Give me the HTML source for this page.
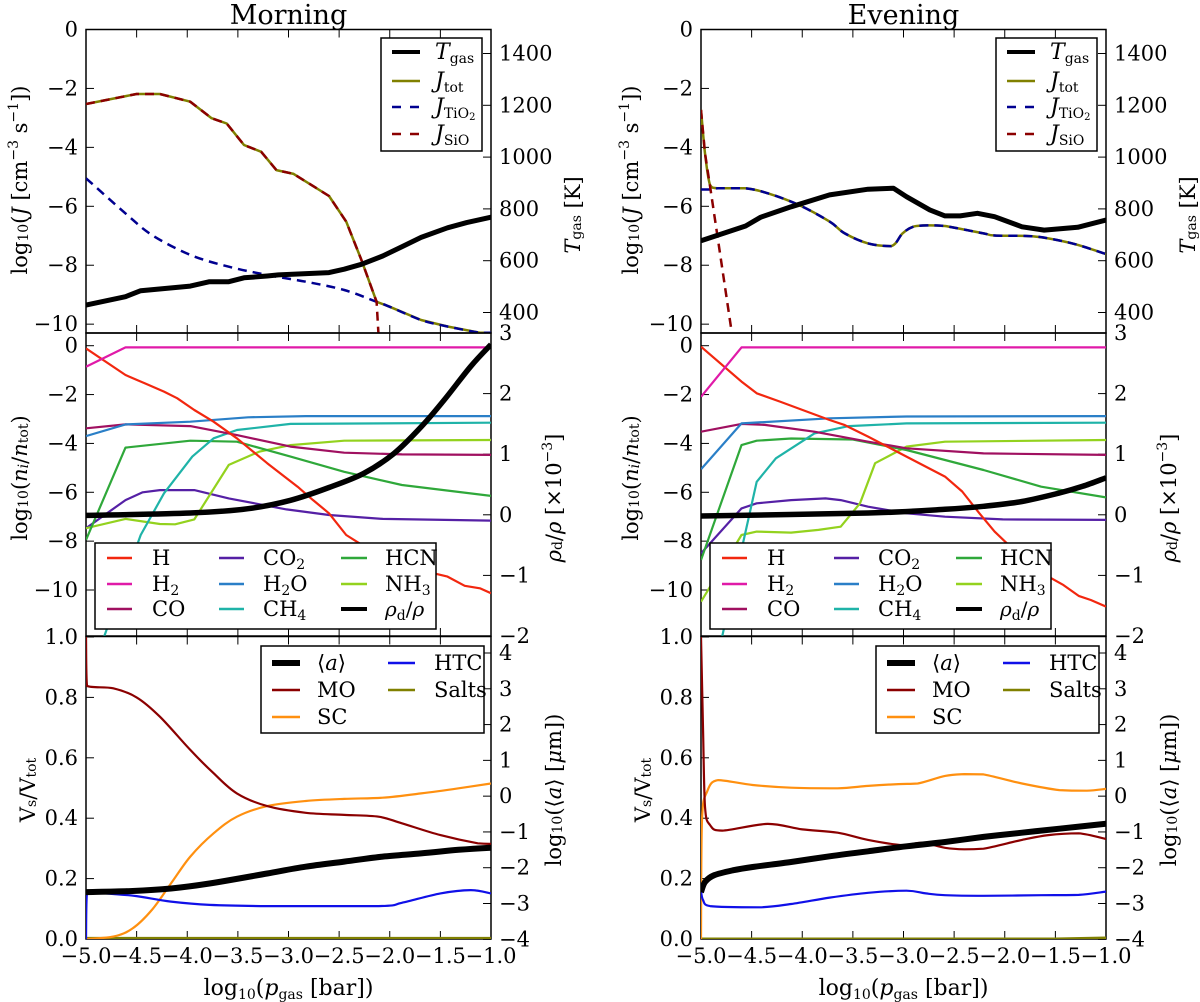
<!DOCTYPE html>
<html><head><meta charset="utf-8">
<style>
html,body{margin:0;padding:0;background:#fff;}
svg{display:block;font-family:"DejaVu Serif","Liberation Serif",serif;}
</style></head>
<body>
<svg id="fig" width="1200" height="1002" viewBox="0 0 1200 1002" xmlns="http://www.w3.org/2000/svg"></svg>
<script>
// ===== DATA (x = log10 p_gas) =====
// Morning top
const mTgasX=[-5,-4.61,-4.46,-3.97,-3.78,-3.59,-3.44,-3.21,-3.10,-2.60,-2.45,-2.28,-2.07,-1.88,-1.69,-1.43,-1.24,-1];
const mTgasY=[429,461,484,502,519,519,534,541,545,554,567,586,618,654,690,727,747,768];
const mJtotX=[-5,-4.50,-4.27,-3.97,-3.76,-3.61,-3.44,-3.27,-3.12,-2.95,-2.60,-2.43,-2.28,-2.13,-2.00,-1.69,-1.43,-1.11,-1];
const mJtotY=[-2.53,-2.19,-2.19,-2.45,-3.01,-3.19,-3.92,-4.15,-4.77,-4.90,-5.65,-6.52,-7.82,-9.24,-9.41,-9.86,-10.08,-10.29,-10.29];
const mJtioX=[-5,-4.61,-4.35,-3.97,-3.59,-3.21,-2.83,-2.45,-2.13,-2.00,-1.69,-1.43,-1.11,-1];
const mJtioY=[-5.05,-6.24,-6.97,-7.65,-8.05,-8.33,-8.56,-8.84,-9.24,-9.41,-9.86,-10.08,-10.29,-10.29];
const mJsioX=[-5,-4.50,-4.27,-3.97,-3.76,-3.61,-3.44,-3.27,-3.12,-2.95,-2.60,-2.43,-2.28,-2.13,-2.10];
const mJsioY=[-2.53,-2.19,-2.19,-2.45,-3.01,-3.19,-3.92,-4.15,-4.77,-4.90,-5.65,-6.52,-7.82,-9.24,-11];
// Evening top
const eTgasX=[-5,-4.56,-4.41,-4.11,-3.73,-3.35,-3.10,-2.97,-2.74,-2.59,-2.44,-2.27,-2.10,-1.83,-1.61,-1.28,-1];
const eTgasY=[677,734,768,808,854,876,880,847,796,773,773,783,770,731,718,729,757];
const eJtotX=[-5,-4.96,-4.91,-4.83,-4.56,-4.34,-4.03,-3.73,-3.58,-3.35,-3.12,-3.01,-2.90,-2.74,-2.59,-2.21,-2.10,-1.76,-1.57,-1.30,-1];
const eJtotY=[-2.73,-4.20,-5.28,-5.39,-5.39,-5.56,-5.96,-6.52,-6.92,-7.26,-7.35,-6.92,-6.69,-6.65,-6.67,-6.92,-6.99,-7.01,-7.09,-7.29,-7.62];
const eJtioX=[-5,-4.91,-4.83,-4.56,-4.34,-4.03,-3.73,-3.58,-3.35,-3.12,-3.01,-2.90,-2.74,-2.59,-2.21,-2.10,-1.76,-1.57,-1.30,-1];
const eJtioY=[-5.43,-5.43,-5.39,-5.39,-5.56,-5.96,-6.52,-6.92,-7.26,-7.35,-6.92,-6.69,-6.65,-6.67,-6.92,-6.99,-7.01,-7.09,-7.29,-7.62];
const eJsioX=[-5,-4.96,-4.91,-4.70,-4.66];
const eJsioY=[-2.73,-4.20,-5.33,-10.2,-11];
// Morning middle
const mHX=[-5,-4.61,-4.42,-4.23,-4.10,-3.93,-3.74,-3.51,-3.21,-2.91,-2.76,-2.60,-2.43,-2.30,-2.0,-1.7,-1.56,-1.43,-1.26,-1.11,-1];
const mHY=[-0.11,-1.20,-1.54,-1.88,-2.15,-2.63,-3.11,-3.79,-4.81,-5.77,-6.31,-6.86,-7.75,-8.09,-8.6,-9.1,-9.32,-9.45,-9.83,-9.93,-10.13];
const mH2X=[-5,-4.61,-1];
const mH2Y=[-0.86,-0.07,-0.07];
const mCOX=[-5,-4.61,-3.97,-3.51,-2.98,-2.45,-1.88,-1];
const mCOY=[-3.38,-3.22,-3.29,-3.66,-4.13,-4.38,-4.45,-4.47];
const mH2OX=[-5,-4.61,-3.97,-3.40,-2.83,-1];
const mH2OY=[-3.70,-3.22,-3.11,-2.93,-2.88,-2.88];
const mCH4X=[-5,-4.82,-4.46,-4.23,-3.95,-3.74,-3.51,-2.98,-1];
const mCH4Y=[-14,-11.9,-7.75,-6.04,-4.54,-3.79,-3.45,-3.20,-3.15];
const mHCNX=[-5,-4.61,-3.97,-3.51,-2.98,-2.45,-1.88,-1];
const mHCNY=[-7.95,-4.17,-3.89,-3.93,-4.54,-5.16,-5.70,-6.15];
const mNH3X=[-5,-4.61,-4.27,-4.12,-3.93,-3.59,-3.29,-2.98,-2.45,-1];
const mNH3Y=[-7.47,-7.09,-7.30,-7.31,-7.11,-4.88,-4.34,-4.07,-3.89,-3.86];
const mCO2X=[-5,-4.61,-4.44,-4.27,-3.93,-3.59,-3.02,-2.60,-2.07,-1];
const mCO2Y=[-7.47,-6.32,-6.00,-5.91,-5.91,-6.25,-6.70,-6.93,-7.09,-7.16];
const mRhoX=[-5,-3.97,-3.40,-2.98,-2.60,-2.26,-1.96,-1.69,-1.46,-1.20,-1];
const mRhoY=[-0.01,0.03,0.10,0.24,0.45,0.68,1.01,1.45,1.90,2.45,2.81];
// Evening middle
const eHX=[-5,-4.60,-4.45,-4.22,-3.73,-3.58,-3.35,-2.97,-2.59,-2.42,-2.25,-2.10,-1.85,-1.57,-1.42,-1.27,-1.15,-1];
const eHY=[-0.04,-1.47,-1.95,-2.29,-3.04,-3.25,-3.72,-4.54,-5.36,-5.97,-6.86,-7.61,-8.6,-9.45,-9.80,-10.24,-10.41,-10.68];
const eH2X=[-5,-4.60,-1];
const eH2Y=[-2.09,-0.07,-0.07];
const eCOX=[-5,-4.60,-4.37,-3.88,-3.35,-2.97,-2.21,-1];
const eCOY=[-3.52,-3.20,-3.24,-3.52,-3.93,-4.20,-4.41,-4.47];
const eH2OX=[-5,-4.60,-3.73,-2.97,-1];
const eH2OY=[-5.06,-3.18,-2.97,-2.90,-2.88];
const eCH4X=[-5,-4.79,-4.45,-4.26,-3.88,-3.54,-2.97,-1];
const eCH4Y=[-15,-11.88,-5.57,-4.61,-3.59,-3.29,-3.18,-3.15];
const eHCNX=[-5,-4.60,-4.45,-4.11,-3.50,-2.97,-2.21,-1.64,-1];
const eHCNY=[-8.77,-4.07,-3.89,-3.80,-3.84,-4.27,-5.09,-5.77,-6.21];
const eNH3X=[-5,-4.60,-4.45,-4.11,-3.84,-3.62,-3.43,-3.28,-2.97,-2.59,-1];
const eNH3Y=[-10.48,-7.75,-7.61,-7.65,-7.54,-7.41,-6.45,-4.81,-4.13,-3.93,-3.86];
const eCO2X=[-5,-4.60,-4.45,-4.11,-3.77,-3.62,-3.35,-2.97,-2.59,-2.02,-1];
const eCO2Y=[-8.5,-6.66,-6.45,-6.32,-6.25,-6.32,-6.59,-6.86,-7.0,-7.11,-7.13];
const eRhoX=[-5,-3.35,-2.59,-2.21,-1.83,-1.46,-1.23,-1];
const eRhoY=[-0.02,0.03,0.09,0.14,0.22,0.36,0.47,0.61];
// Morning bottom
const mMOX=[-5,-4.99,-4.73,-4.50,-4.27,-3.97,-3.74,-3.51,-3.21,-2.83,-2.45,-2.11,-1.88,-1.50,-1.13,-1];
const mMOY=[1.0,0.838,0.83,0.80,0.736,0.626,0.549,0.482,0.440,0.418,0.411,0.405,0.383,0.344,0.317,0.315];
const mSCX=[-5,-4.73,-4.54,-4.35,-4.16,-3.97,-3.74,-3.51,-3.21,-2.83,-2.45,-2.07,-1.69,-1.32,-1];
const mSCY=[0.0,0.008,0.035,0.096,0.184,0.273,0.35,0.405,0.44,0.457,0.464,0.468,0.482,0.499,0.515];
const mHTCX=[-5,-4.99,-4.73,-4.50,-4.16,-3.78,-3.21,-2.11,-1.88,-1.50,-1.20,-1];
const mHTCY=[0.0,0.153,0.149,0.142,0.124,0.113,0.109,0.109,0.12,0.151,0.162,0.151];
const mSaltX=[-5,-1];
const mSaltY=[0.003,0.003];
const mAX=[-5,-4.54,-4.16,-3.78,-3.21,-2.83,-2.45,-2.07,-1.69,-1.32,-1];
const mAY=[-2.68,-2.65,-2.58,-2.44,-2.16,-1.97,-1.83,-1.69,-1.60,-1.50,-1.44];
// Evening bottom
const eMOX=[-5,-4.98,-4.96,-4.91,-4.79,-4.34,-4.00,-3.65,-3.35,-3.01,-2.82,-2.59,-2.40,-2.21,-1.83,-1.57,-1.27,-1];
const eMOY=[1.0,0.70,0.438,0.377,0.359,0.381,0.363,0.352,0.328,0.311,0.319,0.302,0.297,0.299,0.328,0.344,0.35,0.331];
const eSCX=[-5,-4.99,-4.94,-4.83,-4.49,-4.11,-3.65,-3.35,-3.05,-2.86,-2.59,-2.40,-2.21,-1.83,-1.46,-1.19,-1];
const eSCY=[0.0,0.394,0.488,0.526,0.51,0.501,0.499,0.507,0.513,0.515,0.54,0.546,0.545,0.515,0.493,0.491,0.497];
const eHTCX=[-5,-4.98,-4.91,-4.42,-4.11,-3.73,-3.35,-2.97,-2.78,-2.59,-2.21,-1.64,-1.27,-1];
const eHTCY=[0.16,0.129,0.109,0.105,0.116,0.137,0.153,0.16,0.151,0.145,0.143,0.145,0.146,0.157];
const eSaltX=[-5,-1.5,-1];
const eSaltY=[0.001,0.001,0.004];
const eAX=[-5,-4.96,-4.87,-4.68,-4.49,-4.11,-3.73,-3.35,-2.97,-2.59,-2.21,-1.83,-1.46,-1];
const eAY=[-2.68,-2.40,-2.21,-2.07,-1.98,-1.84,-1.68,-1.54,-1.40,-1.28,-1.14,-1.02,-0.91,-0.77];
// tick labels
const xTicks=[-5.0,-4.5,-4.0,-3.5,-3.0,-2.5,-2.0,-1.5,-1.0];
const jTicks=[0,-2,-4,-6,-8,-10];
const tTicks=[400,600,800,1000,1200,1400];
const nTicks=[0,-2,-4,-6,-8,-10];
const rhoTicks=[-2,-1,0,1,2,3];
const vTicks=[0.0,0.2,0.4,0.6,0.8,1.0];
const aTicks=[-4,-3,-2,-1,0,1,2,3,4];

// ===== DRAWING =====
const NS="http://www.w3.org/2000/svg";
const svg=document.getElementById('fig');
function mk(tag,attrs,parent){const e=document.createElementNS(NS,tag);for(const k in attrs)e.setAttribute(k,attrs[k]);(parent||svg).appendChild(e);return e;}
const cols=[{x0:86,x1:491,off:0,key:'morning'},{x0:701,x1:1106,off:615,key:'evening'}];
const rows={top:{y0:29.5,y1:333},mid:{y0:333,y1:636},bot:{y0:636.5,y1:939}};
function lin(d0,d1,r0,r1){return v=>r0+(v-d0)/(d1-d0)*(r1-r0);}
function fmtMinus(s){return String(s).replace('-','\u2212');}
const colors={H:'#f2270f',H2:'#e01aa8',CO:'#a01060',CO2:'#5520a5',H2O:'#2a7fc7',CH4:'#1fb3a8',HCN:'#2fa83a',NH3:'#93d21e',MO:'#8b0000',SC:'#ff9010',HTC:'#1010e8',Salt:'#808000',Jtot:'#808000',Jtio:'#000090',Jsio:'#8b0000'};

let clipId=0;
function clipFor(c,r){clipId++;const cp=mk('clipPath',{id:'cp'+clipId});mk('rect',{x:c.x0,y:r.y0,width:c.x1-c.x0,height:r.y1-r.y0},cp);return 'url(#cp'+clipId+')';}
function clampv(v,a,b){const lo=Math.min(a,b),hi=Math.max(a,b);return Math.max(lo,Math.min(hi,v));}
function series(xs,ys,sx,sy,style,clip,name,smooth){
  const P=xs.map((x,i)=>[sx(x),sy(ys[i])]);
  let d='M'+P[0][0].toFixed(1)+' '+P[0][1].toFixed(1);
  for(let i=1;i<P.length;i++){
    if(!smooth){d+='L'+P[i][0].toFixed(1)+' '+P[i][1].toFixed(1);continue;}
    const p0=P[Math.max(0,i-2)],p1=P[i-1],p2=P[i],p3=P[Math.min(P.length-1,i+1)];
    let c1x=p1[0]+(p2[0]-p0[0])/6,c1y=p1[1]+(p2[1]-p0[1])/6;
    let c2x=p2[0]-(p3[0]-p1[0])/6,c2y=p2[1]-(p3[1]-p1[1])/6;
    c1x=clampv(c1x,p1[0],p2[0]);c2x=clampv(c2x,p1[0],p2[0]);
    c1y=clampv(c1y,p1[1],p2[1]);c2y=clampv(c2y,p1[1],p2[1]);
    d+='C'+c1x.toFixed(1)+' '+c1y.toFixed(1)+' '+c2x.toFixed(1)+' '+c2y.toFixed(1)+' '+p2[0].toFixed(1)+' '+p2[1].toFixed(1);
  }
  const p=mk('path',Object.assign({d:d,fill:'none','stroke-linejoin':'round','clip-path':clip},style));
  
  
  return p;
}
function txt(x,y,s,attrs,name){const t=mk('text',Object.assign({x:x,y:y,'font-size':20,fill:'#000'},attrs||{}));t.textContent=s;
  
  
  return t;}
function frame(c,r,name){
  const f=mk('rect',{x:c.x0,y:r.y0,width:c.x1-c.x0,height:r.y1-r.y0,fill:'none',stroke:'#000','stroke-width':1.5});
  
  
}
function xticks(c,r,sx,labels){
  xTicks.forEach(v=>{const X=sx(v);
    mk('line',{x1:X,y1:r.y1,x2:X,y2:r.y1-8,stroke:'#000','stroke-width':1});
    mk('line',{x1:X,y1:r.y0,x2:X,y2:r.y0+8,stroke:'#000','stroke-width':1});
    if(labels){txt(X,963,fmtMinus(v.toFixed(1)),{'text-anchor':'middle','font-size':21},'x-tick-label');}
  });
}
function yticks(c,vals,sy,side,fmt){
  vals.forEach(v=>{const Y=sy(v);
    if(side==='l'){mk('line',{x1:c.x0,y1:Y,x2:c.x0+8,y2:Y,stroke:'#000','stroke-width':1});
      txt(c.x0-8,Y+7,fmtMinus(fmt(v)),{'text-anchor':'end','font-size':21},'y-tick-label');}
    else{mk('line',{x1:c.x1,y1:Y,x2:c.x1-8,y2:Y,stroke:'#000','stroke-width':1});
      txt(c.x1+8,Y+7,fmtMinus(fmt(v)),{'text-anchor':'start','font-size':21},'y2-tick-label');}
  });
}
function rotLabel(x,y,html,name){
  const g=mk('g',{transform:'translate('+x+','+y+') rotate(-90)'});
  
  
  const t=mk('text',{x:0,y:0,'text-anchor':'middle','font-size':21,'dominant-baseline':'central'},g);
  t.innerHTML=html;return g;
}
const sub=(s)=>'<tspan baseline-shift="-25%" font-size="14">'+s+'</tspan>';
const sup=(s)=>'<tspan baseline-shift="40%" font-size="14">'+s+'</tspan>';

function legendBox(x,y,w,h,name){const r=mk('rect',{x:x,y:y,width:w,height:h,fill:'#fff',stroke:'#000','stroke-width':1.5});
  
  }
function legEntry(x1,x2,y,style,tx,html,fs,name){
  const g=mk('g',{});
  
  
  mk('line',Object.assign({x1:x1,y1:y,x2:x2,y2:y},style),g);
  const t=mk('text',{x:tx,y:y+7,'font-size':fs||21},g);t.innerHTML=html;
}

cols.forEach((c,ci)=>{
  const M=ci===0;
  const sx=lin(-5,-1,c.x0,c.x1);
  txt((c.x0+c.x1)/2,24,M?'Morning':'Evening',{'text-anchor':'middle','font-size':27},'panel-title-'+c.key);
  // --- TOP ---
  const rt=rows.top;
  const sJ=lin(0,-10.3,rt.y0,rt.y1);
  const sT=v=>53.5-(v-1400)*0.259;
  const ct=clipFor(c,rt);
  frame(c,rt,'nucleation-panel-frame-'+c.key);
  xticks(c,rt,sx,false);
  yticks(c,jTicks,sJ,'l',v=>String(v));
  yticks(c,tTicks,sT,'r',v=>String(v));
  series(M?mJtotX:eJtotX,M?mJtotY:eJtotY,sx,sJ,{stroke:colors.Jtot,'stroke-width':2.5},ct,'jtot-line',!M);
  series(M?mJtioX:eJtioX,M?mJtioY:eJtioY,sx,sJ,{stroke:colors.Jtio,'stroke-width':2.5,'stroke-dasharray':'9 6'},ct,'jtio2-line',true);
  series(M?mJsioX:eJsioX,M?mJsioY:eJsioY,sx,sJ,{stroke:colors.Jsio,'stroke-width':2.5,'stroke-dasharray':'9 6'},ct,'jsio-line',false);
  series(M?mTgasX:eTgasX,M?mTgasY:eTgasY,sx,sT,{stroke:'#000','stroke-width':5},ct,'tgas-line',false);
  rotLabel(M?20:631,180,'log'+sub('10')+'(<tspan font-style="italic">J</tspan> [cm'+sup('\u22123')+' s'+sup('\u22121')+'])','y-axis-title-J');
  rotLabel(c.x1+82,215,'<tspan font-style="italic">T</tspan>'+sub('gas')+' [K]','y2-axis-title-tgas');
  const lx=381+c.off;
  legendBox(lx,38,101,113,'legend-top-'+c.key);
  legEntry(lx+11,lx+39,52,{stroke:'#000','stroke-width':4},lx+54,'<tspan font-style="italic">T</tspan>'+sub('gas'),22,'legend-entry-tgas');
  legEntry(lx+11,lx+39,81,{stroke:colors.Jtot,'stroke-width':2.5},lx+54,'<tspan font-style="italic">J</tspan>'+sub('tot'),22,'legend-entry-jtot');
  legEntry(lx+11,lx+39,107,{stroke:colors.Jtio,'stroke-width':2.5,'stroke-dasharray':'9 9'},lx+54,'<tspan font-style="italic">J</tspan>'+sub('TiO<tspan font-size="10" baseline-shift="-20%">2</tspan>'),22,'legend-entry-jtio2');
  legEntry(lx+11,lx+39,134,{stroke:colors.Jsio,'stroke-width':2.5,'stroke-dasharray':'9 9'},lx+54,'<tspan font-style="italic">J</tspan>'+sub('SiO'),22,'legend-entry-jsio');

  // --- MIDDLE ---
  const rm=rows.mid;
  const sN=lin(0,-10,345.7,590);
  const sR=lin(3,-2,333,636);
  const cm=clipFor(c,rm);
  frame(c,rm,'abundance-panel-frame-'+c.key);
  xticks(c,rm,sx,false);
  yticks(c,nTicks,sN,'l',v=>String(v));
  yticks(c,rhoTicks,sR,'r',v=>String(v));
  const sp=M?[['CO2',mCO2X,mCO2Y],['NH3',mNH3X,mNH3Y],['HCN',mHCNX,mHCNY],['CH4',mCH4X,mCH4Y],['CO',mCOX,mCOY],['H2O',mH2OX,mH2OY],['H',mHX,mHY],['H2',mH2X,mH2Y]]
            :[['CO2',eCO2X,eCO2Y],['NH3',eNH3X,eNH3Y],['HCN',eHCNX,eHCNY],['CH4',eCH4X,eCH4Y],['CO',eCOX,eCOY],['H2O',eH2OX,eH2OY],['H',eHX,eHY],['H2',eH2X,eH2Y]];
  sp.forEach(s=>series(s[1],s[2],sx,sN,{stroke:colors[s[0]],'stroke-width':2.2},cm,'line-'+s[0].toLowerCase(),false));
  series(M?mRhoX:eRhoX,M?mRhoY:eRhoY,sx,sR,{stroke:'#000','stroke-width':5.5},cm,'rho-ratio-line',true);
  rotLabel(M?20:631,478,'log'+sub('10')+'(<tspan font-style="italic">n<tspan font-size="14" baseline-shift="-25%">i</tspan></tspan>/<tspan font-style="italic">n</tspan>'+sub('tot')+')','y-axis-title-n');
  rotLabel(c.x1+63,498,'<tspan font-style="italic">\u03c1</tspan>'+sub('d')+'/<tspan font-style="italic">\u03c1</tspan> [\u00d710'+sup('\u22123')+']','y2-axis-title-rho');
  const mx=95+c.off;
  legendBox(mx,543,341,86,'legend-mid-'+c.key);
  const cxs=[[12,37,57],[124,149,168],[246,272,290]];
  const mEnt=[[0,0,'H','H','h'],[0,1,'H2','H'+sub('2'),'h2'],[0,2,'CO','CO','co'],[1,0,'CO2','CO'+sub('2'),'co2'],[1,1,'H2O','H'+sub('2')+'O','h2o'],[1,2,'CH4','CH'+sub('4'),'ch4'],[2,0,'HCN','HCN','hcn'],[2,1,'NH3','NH'+sub('3'),'nh3']];
  const rys=[558,584,609];
  mEnt.forEach(e=>{const cc=cxs[e[0]];legEntry(mx+cc[0],mx+cc[1],rys[e[1]],{stroke:colors[e[2]],'stroke-width':2.5},mx+cc[2],e[3],21,'legend-entry-'+e[4]);});
  legEntry(mx+cxs[2][0],mx+cxs[2][1],609,{stroke:'#000','stroke-width':4},mx+cxs[2][2],'<tspan font-style="italic">\u03c1</tspan>'+sub('d')+'/<tspan font-style="italic">\u03c1</tspan>',20,'legend-entry-rho');

  // --- BOTTOM ---
  const rb=rows.bot;
  const sV=lin(0,1,939,637);
  const sA=lin(-4,4,939.3,653);
  const cb=clipFor(c,rb);
  frame(c,rb,'volume-panel-frame-'+c.key);
  xticks(c,rb,sx,true);
  yticks(c,vTicks,sV,'l',v=>v.toFixed(1));
  yticks(c,aTicks,sA,'r',v=>String(v));
  series(M?mSaltX:eSaltX,M?mSaltY:eSaltY,sx,sV,{stroke:colors.Salt,'stroke-width':2.5},cb,'salts-line',false);
  series(M?mSCX:eSCX,M?mSCY:eSCY,sx,sV,{stroke:colors.SC,'stroke-width':2.2},cb,'sc-line',true);
  series(M?mMOX:eMOX,M?mMOY:eMOY,sx,sV,{stroke:colors.MO,'stroke-width':2.2},cb,'mo-line',true);
  series(M?mHTCX:eHTCX,M?mHTCY:eHTCY,sx,sV,{stroke:colors.HTC,'stroke-width':2.2},cb,'htc-line',true);
  series(M?mAX:eAX,M?mAY:eAY,sx,sA,{stroke:'#000','stroke-width':6},cb,'mean-size-line',true);
  rotLabel(M?28:643,790,'V'+sub('s')+'/V'+sub('tot'),'y-axis-title-volume');
  rotLabel(c.x1+63,790,'log'+sub('10')+'(\u27e8<tspan font-style="italic">a</tspan>\u27e9 [<tspan font-style="italic">\u03bc</tspan>m])','y2-axis-title-size');
  txt((c.x0+c.x1)/2,995,'',{'text-anchor':'middle','font-size':22},'x-axis-title').innerHTML='log'+sub('10')+'(<tspan font-style="italic">p</tspan>'+sub('gas')+' [bar])';
  const bx=261+c.off;
  legendBox(bx,646,223,87,'legend-bottom-'+c.key);
  legEntry(bx+11,bx+39,663,{stroke:'#000','stroke-width':6},bx+56,'\u27e8<tspan font-style="italic">a</tspan>\u27e9',21,'legend-entry-mean-size');
  legEntry(bx+11,bx+39,690,{stroke:colors.MO,'stroke-width':2.5},bx+56,'MO',21,'legend-entry-mo');
  legEntry(bx+11,bx+39,717,{stroke:colors.SC,'stroke-width':2.5},bx+56,'SC',21,'legend-entry-sc');
  legEntry(bx+127,bx+154,663,{stroke:colors.HTC,'stroke-width':2.5},bx+173,'HTC',21,'legend-entry-htc');
  legEntry(bx+127,bx+154,690,{stroke:colors.Salt,'stroke-width':2.5},bx+173,'Salts',21,'legend-entry-salts');
});
</script>
</body></html>
